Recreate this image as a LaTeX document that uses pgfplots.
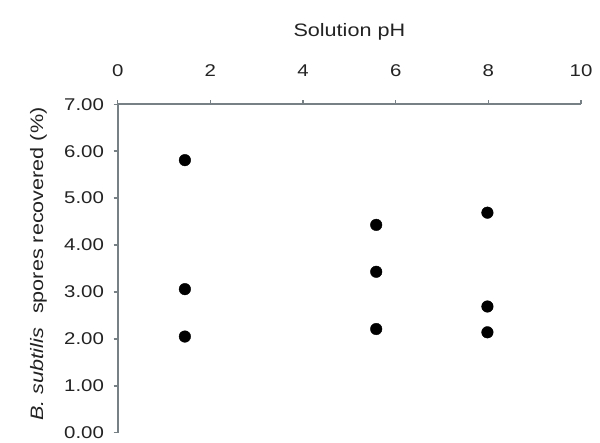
\documentclass[border=0pt]{standalone}
\usepackage{fontspec}
\setmainfont{Liberation Sans}[FakeStretch=1.2]
\usepackage{pgfplots}
\pgfplotsset{compat=1.18}
\definecolor{axisgray}{RGB}{118,128,133}
\definecolor{txt}{RGB}{35,35,35}
\begin{document}
\begin{tikzpicture}[x=1pt,y=1pt]
\path[use as bounding box, fill=white] (0,0) rectangle (600,442);
\begin{axis}[
  at={(117.7pt,9.3pt)}, anchor=south west,
  scale only axis, width=463.3pt, height=328.4pt,
  xmin=0, xmax=10, ymin=0, ymax=7,
  axis x line*=top, axis y line*=left,
  axis line style={-, draw=axisgray, line width=2.3pt},
  every tick/.style={draw=axisgray, line width=1.5pt},
  tick align=outside, major tick length=4pt,
  xtick={0,2,...,10}, ytick={0,1,...,7},
  yticklabel={\pgfmathprintnumber[fixed,fixed zerofill,precision=2]{\tick}},
  /pgf/number format/assume math mode=true,
  tick label style={font=\fontsize{17}{20}\selectfont, text=txt},
  xticklabel style={anchor=base},
  xticklabel shift=23.4pt, yticklabel shift=6.3pt,
  label style={font=\fontsize{18}{21}\selectfont, text=txt},
  xlabel={Solution pH},
  xlabel style={at={(axis description cs:0.5,1.2070)}, anchor=base},
  ylabel={\textit{B. subtilis}\hspace{0.45em} spores recovered (\%)},
  ylabel style={at={(axis description cs:-0.1612,0.5137)}, anchor=base, rotate=0},
  clip=false,
]
\addplot[only marks, mark=*, mark size=5.8pt, black] coordinates {
  (1.45,5.81) (1.45,3.06) (1.45,2.05)
  (5.58,4.43) (5.58,3.43) (5.58,2.21)
  (7.98,4.69) (7.98,2.69) (7.98,2.14)
};
\end{axis}
\end{tikzpicture}
\end{document}
